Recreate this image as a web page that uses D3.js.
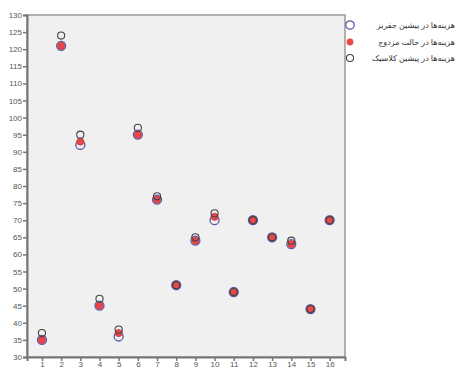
<!DOCTYPE html>
<html lang="fa">
<head>
<meta charset="UTF-8">
<style type="text/css">
  body {margin:0;background:#fff;font-family:Arial, "Liberation Sans", sans-serif;}
  .axis text {font: 8px Arial, "Liberation Sans", sans-serif; fill:#555;}
  .legend text {font: 8px "Noto Sans", "DejaVu Sans", sans-serif; fill:#333;}
</style>
<title>chart</title>
</head>
<body>
<svg id="chart" width="461" height="369"></svg>
<script src="https://d3js.org/d3.v7.min.js"></script>
<script type="text/javascript">
var xValues = [1,2,3,4,5,6,7,8,9,10,11,12,13,14,15,16];
var jeffreys = [35,121,92,45,36,95,76,51,64,70,49,70,65,63,44,70];
var conjugate = [35,121,93,45,37,95,76,51,64,71,49,70,65,63,44,70];
var classic = [37,124,95,47,38,97,77,51,65,72,49,70,65,64,44,70];
var yTicks = d3.range(30, 131, 5);
var seriesNames = ["هزینه‌ها در پیشین جفریز", "هزینه‌ها در حالت مزدوج", "هزینه‌ها در پیشین کلاسیک"];

var svg = d3.select("#chart");
var margin = {top:15, left:27, right:116, bottom:12},
    width = 461 - margin.left - margin.right,
    height = 369 - margin.top - margin.bottom;

var x = d3.scaleLinear().domain([0.22, 16.8]).range([0, width]);
var y = d3.scaleLinear().domain([30, 130]).range([height, 0]);

var g = svg.append("g").attr("transform", `translate(${margin.left},${margin.top})`);

// plot background + frame
g.append("rect").attr("width", width).attr("height", height)
  .attr("fill", "#f0f0f0").attr("stroke", "#999").attr("stroke-width", 1.5);

// y axis
var yAxis = g.append("g").attr("class", "axis")
  .call(d3.axisLeft(y).tickValues(yTicks).tickSize(4).tickPadding(1));
yAxis.select(".domain").attr("stroke", "#777").attr("stroke-width", 2);
yAxis.selectAll(".tick line").attr("stroke", "#777").attr("stroke-width", 1.5);

// x axis
var xAxis = g.append("g").attr("class", "axis")
  .attr("transform", `translate(0,${height})`)
  .call(d3.axisBottom(x).tickValues(xValues).tickSize(4).tickPadding(0));
xAxis.select(".domain").attr("stroke", "#777").attr("stroke-width", 2);
xAxis.selectAll(".tick line").attr("stroke", "#777").attr("stroke-width", 1.5);

// points
g.selectAll(".jeff").data(xValues).enter().append("circle")
  .attr("cx", d => x(d)).attr("cy", (d, i) => y(jeffreys[i])).attr("r", 4.5)
  .attr("fill", "none").attr("stroke", "#5a5aa8").attr("stroke-width", 1.3);

g.selectAll(".conj").data(xValues).enter().append("circle")
  .attr("cx", d => x(d)).attr("cy", (d, i) => y(conjugate[i])).attr("r", 3.6)
  .attr("fill", "#e8484a").attr("stroke", "#c02030").attr("stroke-width", 0.6);

var pent = d3.symbol().type(d3.symbolCircle).size(40);
g.selectAll(".cls").data(xValues).enter().append("path")
  .attr("d", pent)
  .attr("transform", (d, i) => `translate(${x(d)},${y(classic[i])})`)
  .attr("fill", "none").attr("stroke", "#444").attr("stroke-width", 1.1);

// legend
var lg = svg.append("g").attr("class", "legend");
var ly = [25, 42, 58];
lg.append("circle").attr("cx", 350).attr("cy", ly[0]).attr("r", 4.2)
  .attr("fill", "none").attr("stroke", "#5a5aa8").attr("stroke-width", 1.3);
lg.append("circle").attr("cx", 350).attr("cy", ly[1]).attr("r", 3.4)
  .attr("fill", "#e8484a");
lg.append("path").attr("d", pent).attr("transform", `translate(350,${ly[2]})`)
  .attr("fill", "none").attr("stroke", "#444").attr("stroke-width", 1.1);
lg.selectAll("text").data(seriesNames).enter().append("text")
  .attr("x", 455).attr("y", (d, i) => ly[i] + 3)
  .attr("text-anchor", "start").attr("direction", "rtl")
  .text(d => d);
</script>
</body>
</html>
